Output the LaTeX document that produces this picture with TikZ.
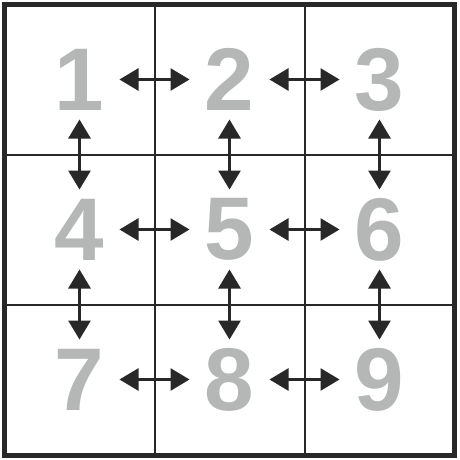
\documentclass[tikz,border=0pt]{standalone}
\usepackage{fontspec}
\setmainfont{Liberation Sans}
\usetikzlibrary{arrows.meta}
\definecolor{ink}{RGB}{40,40,40}
\definecolor{digitgray}{RGB}{181,182,182}
\tikzset{
  digit/.style={inner sep=0pt, text=digitgray, font=\fontsize{89}{89}\selectfont\bfseries},
  biarrow/.style={draw=ink, line width=2.7pt, {Triangle[length=19pt,width=22pt]}-{Triangle[length=19pt,width=22pt]}, shorten <=40pt, shorten >=40pt},
  gridline/.style={draw=ink, line width=2pt},
  frame/.style={draw=ink, line width=5pt}
}
\begin{document}
\begin{tikzpicture}[x=1pt,y=-1pt]
\useasboundingbox (0,0) rectangle (459,460);
\fill[white] (0,0) rectangle (459,460);
% grid
\draw[gridline] (154.5,4.5) -- (154.5,455);
\draw[gridline] (304.5,4.5) -- (304.5,455);
\draw[gridline] (4.5,154.5) -- (454.5,154.5);
\draw[gridline] (4.5,304.5) -- (454.5,304.5);
\draw[frame] (4.5,4.5) rectangle (454.5,455.5);
% digits
\node[digit] (d1) at (79.5,79.5) {1};
\node[digit] (d2) at (229.5,79.5) {2};
\node[digit] (d3) at (379.5,79.5) {3};
\node[digit] (d4) at (79.5,229.5) {4};
\node[digit] (d5) at (229.5,229.5) {5};
\node[digit] (d6) at (379.5,229.5) {6};
\node[digit] (d7) at (79.5,379.5) {7};
\node[digit] (d8) at (229.5,379.5) {8};
\node[digit] (d9) at (379.5,379.5) {9};
% arrows
\draw[biarrow] (d1.center) -- (d2.center);
\draw[biarrow] (d2.center) -- (d3.center);
\draw[biarrow] (d4.center) -- (d5.center);
\draw[biarrow] (d5.center) -- (d6.center);
\draw[biarrow] (d7.center) -- (d8.center);
\draw[biarrow] (d8.center) -- (d9.center);
\draw[biarrow] (d1.center) -- (d4.center);
\draw[biarrow] (d4.center) -- (d7.center);
\draw[biarrow] (d2.center) -- (d5.center);
\draw[biarrow] (d5.center) -- (d8.center);
\draw[biarrow] (d3.center) -- (d6.center);
\draw[biarrow] (d6.center) -- (d9.center);
\end{tikzpicture}
\end{document}
